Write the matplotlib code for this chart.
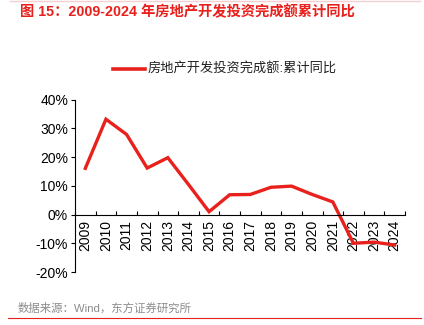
import matplotlib
matplotlib.use("Agg")
import matplotlib.pyplot as plt
from matplotlib.lines import Line2D

years = ["2009", "2010", "2011", "2012", "2013", "2014", "2015", "2016",
         "2017", "2018", "2019", "2020", "2021", "2022", "2023", "2024"]
values = [16.1, 33.2, 27.9, 16.2, 19.8, 10.5, 1.0, 6.9,
          7.0, 9.5, 9.9, 7.0, 4.4, -10.0, -9.6, -10.6]
yticks = [-20, -10, 0, 10, 20, 30, 40]
title = "图 15：2009-2024 年房地产开发投资完成额累计同比"
legend_label = "房地产开发投资完成额:累计同比"
source = "数据来源：Wind，东方证券研究所"

FONTS = ['Liberation Sans', 'Noto Sans CJK SC', 'DejaVu Sans']
plt.rcParams['font.family'] = FONTS

W, H = 424, 325
fig = plt.figure(figsize=(W / 100, H / 100), dpi=100)
fig.patch.set_facecolor("white")

ax = fig.add_axes([75 / W, (H - 272) / H, (405 - 75) / W, (272 - 99.7) / H])
x = list(range(len(years)))
ax.plot(x, values, color="#e8211d", lw=2.4, solid_joinstyle="miter")

ax.set_xlim(-0.5, len(years) - 0.5)
ax.set_ylim(-20, 40)
ax.set_yticks(yticks)
ax.set_yticklabels([f"{v}%" for v in yticks])

ax.set_xticks([i + 0.5 for i in range(-1, len(years))])
ax.set_xticklabels([])
ax.set_xticks(x, minor=True)
ax.set_xticklabels(years, minor=True)
ax.tick_params(axis="x", which="major", direction="in", length=3, width=0.8)
ax.tick_params(axis="x", which="minor", length=0, pad=4, labelrotation=90, labelsize=10)
ax.tick_params(axis="y", direction="out", length=3, width=0.8, labelsize=10, pad=2)

for s in ["top", "right"]:
    ax.spines[s].set_visible(False)
ax.spines["bottom"].set_position(("data", 0))
ax.spines["bottom"].set_linewidth(0.8)
ax.spines["left"].set_linewidth(0.8)

# legend
fig.add_artist(Line2D([113 / W, 145 / W], [(H - 69) / H] * 2, color="#e8211d", lw=2.6))
fig.text(148 / W, (H - 69) / H, legend_label, fontsize=9.5, va="center", ha="left",
         color="#222222")

# title
fig.text(20 / W, (H - 12) / H, title, fontsize=10.3, fontweight="bold",
         color="#e8211d", va="center", ha="left")
fig.add_artist(Line2D([10 / W, 420 / W], [(H - 0.5) / H] * 2, color="#f6d0d0", lw=1))

# source
fig.text(18 / W, (H - 308) / H, source, fontsize=8.2, color="#8c8c8c",
         va="center", ha="left")
fig.add_artist(Line2D([8 / W, 421 / W], [(H - 318) / H] * 2, color="#e8211d", lw=0.8))

fig.savefig("out.png", dpi=100)
